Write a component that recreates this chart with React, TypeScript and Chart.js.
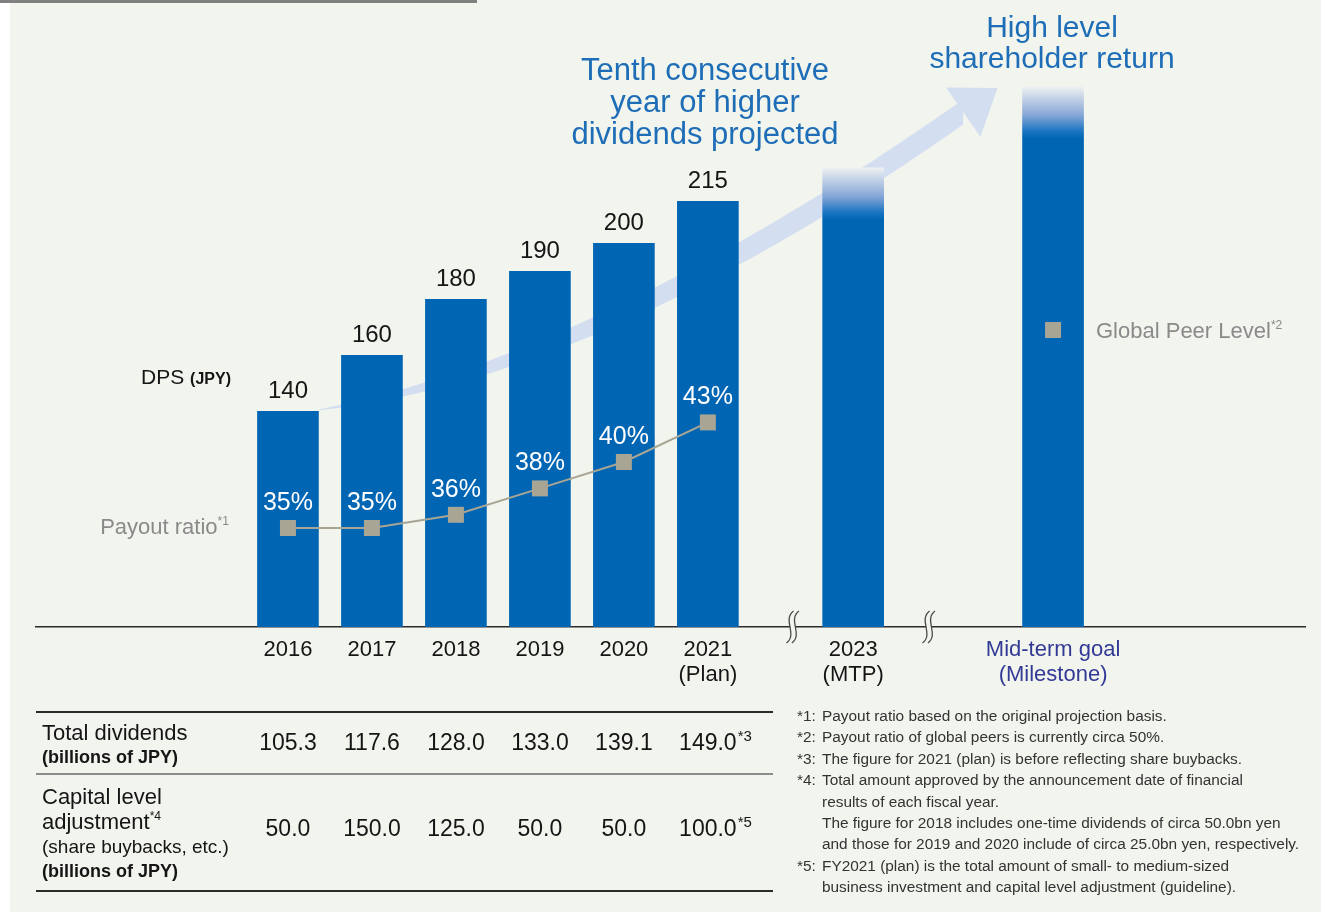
import React, { useEffect, useRef } from "react";
import { Chart, registerables } from "chart.js";

Chart.register(...registerables);

// ---- data ----
const years = ["2016", "2017", "2018", "2019", "2020", "2021"];
const dps = [140, 160, 180, 190, 200, 215];
const payoutRatio = [35, 35, 36, 38, 40, 43];
const goalBarLevels = [227, 256]; // 2023 (MTP) and mid-term goal, open-ended bars
const peerPayoutRatio = 50;
const totalDividends = ["105.3", "117.6", "128.0", "133.0", "139.1", "149.0"];
const capitalAdjustment = ["50.0", "150.0", "125.0", "50.0", "50.0", "100.0"];
const tickLabels: (string | string[])[] = [
  "2016",
  "2017",
  "2018",
  "2019",
  "2020",
  ["2021", "(Plan)"],
  ["2023", "(MTP)"],
  ["Mid-term goal", "(Milestone)"],
];

// ---- layout (category slots along the x axis, axis-break marks) ----
const SLOT = [0, 1, 2, 3, 4, 5, 6.73, 9.11];
const BREAKS = [6.01, 7.63];

const FONT = '"Liberation Sans", Arial, Helvetica, sans-serif';
const BAR_BLUE = "#0066b3";
const TITLE_BLUE = "#1d6db7";
const RATIO_GREY = "#a8a594";
const LABEL_GREY = "#8a8a8a";
const BG = "#f2f4ee";
const INDIGO = "#323a96";

const allBars = [...dps, ...goalBarLevels];

// Rising "shareholder return" arrow drawn behind the bars
const arrowPlugin = {
  id: "returnArrow",
  beforeDatasetsDraw(chart: any) {
    const { ctx, scales } = chart;
    const { x, y } = scales;
    const P0 = { x: x.getPixelForValue(0.38), y: y.getPixelForValue(140.6) };
    const P1 = { x: x.getPixelForValue(3.72), y: y.getPixelForValue(156) };
    const P2 = { x: x.getPixelForValue(8.04), y: y.getPixelForValue(246.9) };
    const pt = (t: number) => ({
      x: (1 - t) * (1 - t) * P0.x + 2 * (1 - t) * t * P1.x + t * t * P2.x,
      y: (1 - t) * (1 - t) * P0.y + 2 * (1 - t) * t * P1.y + t * t * P2.y,
    });
    const w = (t: number) => 1 + 24 * (1 - (1 - t) * (1 - t));
    const N = 60;
    const upper: { x: number; y: number }[] = [];
    const lower: { x: number; y: number }[] = [];
    for (let i = 0; i <= N; i++) {
      const t = i / N;
      const p = pt(t);
      upper.push({ x: p.x, y: p.y - w(t) / 2 });
      lower.push({ x: p.x, y: p.y + w(t) / 2 });
    }
    ctx.save();
    ctx.fillStyle = "#d3def1";
    ctx.beginPath();
    ctx.moveTo(upper[0].x, upper[0].y);
    upper.forEach((p) => ctx.lineTo(p.x, p.y));
    for (let i = lower.length - 1; i >= 0; i--) ctx.lineTo(lower[i].x, lower[i].y);
    ctx.closePath();
    ctx.fill();
    // head
    const dx = P2.x - P1.x;
    const dy = P2.y - P1.y;
    const len = Math.hypot(dx, dy);
    const d = { x: dx / len, y: dy / len };
    const n = { x: -d.y, y: d.x };
    ctx.beginPath();
    ctx.moveTo(P2.x + n.x * 30, P2.y + n.y * 30);
    ctx.lineTo(P2.x + d.x * 42, P2.y + d.y * 42);
    ctx.lineTo(P2.x - n.x * 30, P2.y - n.y * 30);
    ctx.closePath();
    ctx.fill();
    ctx.restore();
  },
};

// Value labels on bars and points, table figures, axis-break marks
const labelPlugin = {
  id: "labels",
  afterDraw(chart: any) {
    const { ctx, scales, chartArea } = chart;
    const { x, y, y2 } = scales;
    ctx.save();
    ctx.textAlign = "center";
    ctx.textBaseline = "middle";

    ctx.fillStyle = "#151515";
    ctx.font = `24px ${FONT}`;
    dps.forEach((v, i) => {
      ctx.fillText(String(v), x.getPixelForValue(SLOT[i]), y.getPixelForValue(v) - 20);
    });

    ctx.fillStyle = "#ffffff";
    ctx.font = `25px ${FONT}`;
    payoutRatio.forEach((v, i) => {
      ctx.fillText(`${v}%`, x.getPixelForValue(SLOT[i]), y2.getPixelForValue(v) - 25);
    });

    // table rows
    const row = (vals: string[], cy: number, note: string) => {
      vals.forEach((v, i) => {
        const cx = x.getPixelForValue(SLOT[i]);
        ctx.font = `23px ${FONT}`;
        ctx.fillStyle = "#151515";
        ctx.textAlign = "center";
        ctx.fillText(v, cx, cy);
        if (i === vals.length - 1) {
          const half = ctx.measureText(v).width / 2;
          ctx.font = `15px ${FONT}`;
          ctx.textAlign = "left";
          ctx.fillText(note, cx + half + 1, cy - 7);
        }
      });
    };
    row(totalDividends, 744, "*3");
    row(capitalAdjustment, 830, "*5");

    // axis breaks
    const by = chartArea.bottom;
    BREAKS.forEach((b) => {
      const bx = x.getPixelForValue(b);
      const curve = (ox: number) => {
        ctx.beginPath();
        ctx.moveTo(bx + ox + 3.5, by - 16);
        ctx.bezierCurveTo(bx + ox - 8, by - 7, bx + ox + 8, by + 7, bx + ox - 3.5, by + 16);
      };
      ctx.strokeStyle = BG;
      ctx.lineWidth = 5;
      curve(0);
      ctx.stroke();
      ctx.strokeStyle = "#4a4a4a";
      ctx.lineWidth = 1.3;
      curve(-2.7);
      ctx.stroke();
      curve(2.7);
      ctx.stroke();
    });
    ctx.restore();
  },
};

function ChartCanvas() {
  const ref = useRef<HTMLCanvasElement>(null);
  useEffect(() => {
    if (!ref.current) return;
    const chart = new Chart(ref.current, {
      type: "bar",
      data: {
        datasets: [
          {
            type: "line",
            label: "Payout ratio",
            data: payoutRatio.map((v, i) => ({ x: SLOT[i], y: v })),
            yAxisID: "y2",
            borderColor: RATIO_GREY,
            borderWidth: 2,
            backgroundColor: RATIO_GREY,
            pointStyle: "rect",
            pointRadius: 11.3,
            pointBorderWidth: 0,
            pointBackgroundColor: RATIO_GREY,
            tension: 0,
            order: 1,
          } as any,
          {
            type: "line",
            label: "Global Peer Level",
            data: [{ x: SLOT[7], y: peerPayoutRatio }],
            yAxisID: "y2",
            showLine: false,
            pointStyle: "rect",
            pointRadius: 11.3,
            pointBorderWidth: 0,
            pointBackgroundColor: RATIO_GREY,
            order: 0,
          } as any,
          {
            type: "bar",
            label: "DPS",
            data: allBars.map((v, i) => ({ x: SLOT[i], y: v })),
            yAxisID: "y",
            barThickness: 61,
            borderWidth: 0,
            order: 2,
            backgroundColor: (c: any) => {
              const i = c.dataIndex;
              if (i < dps.length) return BAR_BLUE;
              const { ctx, chartArea, scales } = c.chart;
              if (!chartArea) return BAR_BLUE;
              const top = scales.y.getPixelForValue(allBars[i]);
              const g = ctx.createLinearGradient(0, top, 0, top + 52);
              g.addColorStop(0, "#eef1f2");
              g.addColorStop(0.55, "#86a6d6");
              g.addColorStop(0.85, "#1d76c3");
              g.addColorStop(1, BAR_BLUE);
              return g;
            },
          } as any,
        ],
      },
      options: {
        animation: false,
        responsive: false,
        devicePixelRatio: 1,
        layout: { padding: { left: 36, right: 16, top: 75, bottom: 0 } },
        plugins: { legend: { display: false }, tooltip: { enabled: false }, title: { display: false } },
        scales: {
          x: {
            type: "linear",
            min: -3,
            max: 12.11,
            offset: false,
            grid: { display: false, drawTicks: false },
            border: { display: true, color: "#2b2b2b", width: 1.5 },
            afterBuildTicks: (axis: any) => {
              axis.ticks = SLOT.map((v) => ({ value: v }));
            },
            afterFit: (scale: any) => {
              scale.height = 287;
            },
            ticks: {
              autoSkip: false,
              maxRotation: 0,
              minRotation: 0,
              padding: 10,
              font: { family: FONT, size: 22, lineHeight: 1.14 },
              color: (c: any) => (c.index === 7 ? INDIGO : "#151515"),
              callback: (_v: any, i: number) => tickLabels[i],
            },
          },
          y: { type: "linear", display: false, min: 63, max: 260.14, beginAtZero: false },
          y2: { type: "linear", display: false, min: 27.5, max: 69.32, beginAtZero: false },
        },
      },
      plugins: [arrowPlugin, labelPlugin],
    } as any);
    return () => chart.destroy();
  }, []);
  return (
    <canvas
      ref={ref}
      width={1321}
      height={914}
      style={{ position: "absolute", left: 0, top: 0, width: 1321, height: 914 }}
    />
  );
}

const abs = (left: number, top: number, extra: React.CSSProperties = {}): React.CSSProperties => ({
  position: "absolute",
  left,
  top,
  whiteSpace: "nowrap",
  ...extra,
});

const Sup = ({ children }: { children: React.ReactNode }) => (
  <span style={{ fontSize: "0.55em", position: "relative", top: "-0.75em" }}>{children}</span>
);

const footnotes: { mark: string; lines: string[] }[] = [
  { mark: "*1:", lines: ["Payout ratio based on the original projection basis."] },
  { mark: "*2:", lines: ["Payout ratio of global peers is currently circa 50%."] },
  { mark: "*3:", lines: ["The figure for 2021 (plan) is before reflecting share buybacks."] },
  {
    mark: "*4:",
    lines: [
      "Total amount approved by the announcement date of financial",
      "results of each fiscal year.",
      "The figure for 2018 includes one-time dividends of circa 50.0bn yen",
      "and those for 2019 and 2020 include of circa 25.0bn yen, respectively.",
    ],
  },
  {
    mark: "*5:",
    lines: [
      "FY2021 (plan) is the total amount of small- to medium-sized",
      "business investment and capital level adjustment (guideline).",
    ],
  },
];

export default function App() {
  return (
    <div
      style={{
        position: "absolute",
        left: 0,
        top: 0,
        width: 1321,
        height: 914,
        overflow: "hidden",
        background: "#ffffff",
        fontFamily: FONT,
        color: "#151515",
      }}
    >
      <div style={{ position: "absolute", left: 10, top: 0, right: 0, bottom: 2, background: BG }} />
      <div style={{ position: "absolute", left: 0, top: 0, width: 477, height: 3, background: "#808080" }} />
      <ChartCanvas />

      {/* headlines */}
      <div style={abs(505, 54, { width: 400, textAlign: "center", fontSize: 31, lineHeight: "32px", color: TITLE_BLUE })}>
        Tenth consecutive
        <br />
        year of higher
        <br />
        dividends projected
      </div>
      <div style={abs(852, 11, { width: 400, textAlign: "center", fontSize: 30, lineHeight: "31px", color: TITLE_BLUE })}>
        High level
        <br />
        shareholder return
      </div>

      {/* series captions */}
      <div style={abs(60, 365, { width: 171, textAlign: "right", fontSize: 21, lineHeight: "24px" })}>
        DPS <b style={{ fontSize: 16 }}>(JPY)</b>
      </div>
      <div style={abs(30, 515, { width: 199, textAlign: "right", fontSize: 22, lineHeight: "24px", color: LABEL_GREY })}>
        Payout ratio<Sup>*1</Sup>
      </div>
      <div style={abs(1096, 319, { fontSize: 22, lineHeight: "24px", color: LABEL_GREY })}>
        Global Peer Level<Sup>*2</Sup>
      </div>

      {/* table */}
      <div style={{ position: "absolute", left: 36, top: 711, width: 737, height: 1.5, background: "#2b2b2b" }} />
      <div style={{ position: "absolute", left: 36, top: 773, width: 737, height: 2, background: "#8c8c8c" }} />
      <div style={{ position: "absolute", left: 36, top: 890, width: 737, height: 1.5, background: "#2b2b2b" }} />
      <div style={abs(42, 721, { fontSize: 22, lineHeight: "24px" })}>Total dividends</div>
      <div style={abs(42, 747, { fontSize: 18, lineHeight: "20px", fontWeight: "bold" })}>(billions of JPY)</div>
      <div style={abs(42, 785, { fontSize: 22, lineHeight: "24px" })}>Capital level</div>
      <div style={abs(42, 810, { fontSize: 22, lineHeight: "24px" })}>
        adjustment<Sup>*4</Sup>
      </div>
      <div style={abs(42, 837, { fontSize: 19, lineHeight: "20px" })}>(share buybacks, etc.)</div>
      <div style={abs(42, 861, { fontSize: 18, lineHeight: "20px", fontWeight: "bold" })}>(billions of JPY)</div>

      {/* footnotes */}
      <div style={abs(797, 705, { fontSize: 15.4, lineHeight: "21.4px", color: "#333333" })}>
        {footnotes.map((f) => (
          <div key={f.mark} style={{ display: "flex" }}>
            <span style={{ width: 25, flex: "none" }}>{f.mark}</span>
            <span>
              {f.lines.map((l, i) => (
                <div key={i}>{l}</div>
              ))}
            </span>
          </div>
        ))}
      </div>
    </div>
  );
}
